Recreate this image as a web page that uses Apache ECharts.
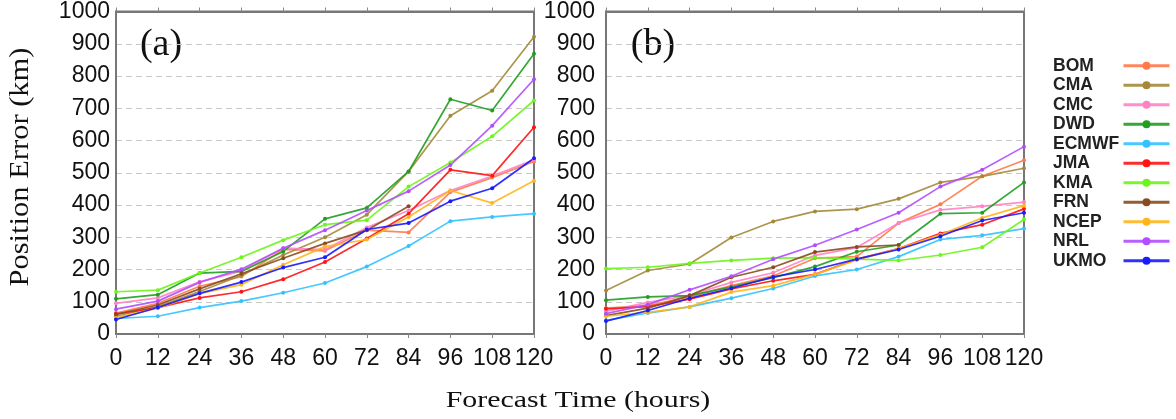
<!DOCTYPE html>
<html>
<head>
<meta charset="utf-8">
<script src="https://cdn.jsdelivr.net/npm/echarts@6/dist/echarts.min.js"></script>
<style>
html,body{margin:0;padding:0;background:#fff;}
#chart{width:1176px;height:419px;}
</style>
</head>
<body>
<div id="chart"></div>
<script>
// ---- data ----
var hours = [0, 12, 24, 36, 48, 60, 72, 84, 96, 108, 120];
var yTicks = [0, 100, 200, 300, 400, 500, 600, 700, 800, 900, 1000];
var models = ['BOM', 'CMA', 'CMC', 'DWD', 'ECMWF', 'JMA', 'KMA', 'FRN', 'NCEP', 'NRL', 'UKMO'];
var colors = ['#ff7a4a', '#a48a38', '#ff82c4', '#1f9e1f', '#33c2ff', '#ff1414', '#6cf51a', '#8b4a1e', '#ffb61c', '#b24cff', '#1a1aff'];

// panel (a)
var BOM_a   = [65, 95, 148, 178, 262, 258, 322, 315, 440, 485, 535];
var CMA_a   = [55, 85, 132, 182, 245, 300, 370, 504, 677, 754, 922];
var CMC_a   = [95, 112, 162, 195, 266, 262, 330, 383, 445, 490, 540];
var DWD_a   = [109, 122, 189, 194, 256, 357, 391, 504, 728, 693, 869];
var ECMWF_a = [48, 55, 82, 102, 128, 158, 209, 273, 350, 363, 373];
var JMA_a   = [62, 82, 112, 131, 170, 223, 296, 373, 509, 491, 641];
var KMA_a   = [131, 136, 189, 238, 291, 339, 353, 457, 532, 613, 724];
var FRN_a   = [61, 90, 140, 187, 235, 281, 322, 396];
var NCEP_a  = [50, 80, 125, 153, 215, 271, 293, 363, 445, 406, 475];
var NRL_a   = [77, 102, 160, 201, 266, 322, 383, 443, 524, 646, 790];
var UKMO_a  = [45, 82, 126, 161, 206, 238, 324, 344, 412, 452, 545];

// panel (b)
var BOM_b   = [80, 88, 115, 150, 180, 235, 240, 344, 402, 489, 539];
var CMA_b   = [135, 197, 217, 299, 349, 380, 387, 419, 470, 489, 514];
var CMC_b   = [70, 98, 120, 160, 190, 244, 268, 344, 385, 396, 409];
var DWD_b   = [105, 115, 119, 146, 175, 209, 255, 276, 373, 376, 470];
var ECMWF_b = [42, 65, 84, 111, 141, 180, 200, 240, 293, 306, 327];
var JMA_b   = [78, 85, 108, 140, 165, 185, 232, 265, 312, 339, 388];
var KMA_b   = [203, 207, 219, 228, 235, 237, 232, 228, 245, 269, 355];
var FRN_b   = [57, 80, 119, 176, 207, 254, 270, 276];
var NCEP_b  = [55, 67, 84, 130, 150, 185, 230, 265, 308, 360, 398];
var NRL_b   = [63, 91, 137, 179, 232, 275, 324, 376, 457, 509, 581];
var UKMO_b  = [40, 73, 111, 142, 177, 200, 232, 262, 303, 352, 376];

var panelA = [BOM_a, CMA_a, CMC_a, DWD_a, ECMWF_a, JMA_a, KMA_a, FRN_a, NCEP_a, NRL_a, UKMO_a];
var panelB = [BOM_b, CMA_b, CMC_b, DWD_b, ECMWF_b, JMA_b, KMA_b, FRN_b, NCEP_b, NRL_b, UKMO_b];

// ---- chart ----
var SANS = '"Liberation Sans", Arial, sans-serif';
var SERIF = '"Liberation Serif", "Times New Roman", serif';
var chart = echarts.init(document.getElementById('chart'), null, {renderer: 'canvas'});

function pairs(arr) { return arr.map(function (v, i) { return [hours[i], v]; }); }

var series = [];
[panelA, panelB].forEach(function (panel, p) {
  panel.forEach(function (arr, k) {
    series.push({
      name: models[k],
      type: 'line',
      xAxisIndex: p * 2,
      yAxisIndex: p,
      data: pairs(arr),
      symbol: 'circle',
      symbolSize: 4,
      showSymbol: true,
      color: colors[k],
      lineStyle: {width: 1.7, color: colors[k], opacity: 0.9},
      itemStyle: {color: colors[k]},
      emphasis: {disabled: true},
      animation: false,
      z: 3
    });
  });
});

function xAx(gi, pos) {
  var bottom = pos === 'bottom';
  return {
    type: 'value', gridIndex: gi, position: pos,
    min: 0, max: 120, interval: 12,
    axisLine: {show: true, onZero: false, lineStyle: {color: '#777', width: 2}},
    axisTick: {show: true, inside: false, length: 4, lineStyle: {color: '#888', width: 1}},
    axisLabel: {show: bottom, fontFamily: SANS, fontSize: 23, color: '#111', margin: 13,
      formatter: function (v) { return String(v); }},
    splitLine: {show: false}
  };
}
function yAx(gi, margin) {
  return {
    type: 'value', gridIndex: gi,
    min: yTicks[0], max: yTicks[yTicks.length - 1], interval: yTicks[1] - yTicks[0],
    axisLine: {show: true, lineStyle: {color: '#777', width: 2}},
    axisTick: {show: false},
    axisLabel: {fontFamily: SANS, fontSize: 23, color: '#111', margin: margin,
      formatter: function (v) { return String(v); }},
    splitLine: {show: true, lineStyle: {color: '#c8c8c8', type: [6, 4], width: 1}}
  };
}

var option = {
  backgroundColor: '#fff',
  animation: false,
  grid: [
    {left: 116, top: 10, width: 418, height: 324, show: true, borderColor: '#777', borderWidth: 2, backgroundColor: 'transparent'},
    {left: 606, top: 10, width: 418, height: 324, show: true, borderColor: '#777', borderWidth: 2, backgroundColor: 'transparent'}
  ],
  xAxis: [xAx(0, 'bottom'), xAx(0, 'top'), xAx(1, 'bottom'), xAx(1, 'top')],
  yAxis: [yAx(0, 6), yAx(1, 11)],
  legend: [
    {
      data: models, orient: 'vertical', left: 1048, top: 56, padding: 0,
      itemWidth: 0, itemHeight: 10, itemGap: 0, icon: 'rect',
      selectedMode: false,
      textStyle: {fontFamily: SANS, fontWeight: 'bold', fontSize: 17.5, color: '#222', lineHeight: 19.5, padding: 0}
    },
    {
      data: models, orient: 'vertical', left: 1122, top: 56, padding: 0,
      itemWidth: 46, itemHeight: 10, itemGap: 0,
      selectedMode: false,
      formatter: function () { return ' '; },
      lineStyle: {width: 3},
      textStyle: {fontFamily: SANS, fontSize: 17.5, lineHeight: 19.5, padding: 0}
    }
  ],
  graphic: [
    {type: 'text', x: 161, y: 45, style: {text: '(a)', font: '38px ' + SERIF, fill: '#111', textAlign: 'center', textVerticalAlign: 'middle'}},
    {type: 'text', x: 653, y: 45, style: {text: '(b)', font: '38px ' + SERIF, fill: '#111', textAlign: 'center', textVerticalAlign: 'middle'}},
    {type: 'text', x: 21, y: 167, rotation: Math.PI / 2, scaleX: 1.13, style: {text: 'Position Error (km)', font: '27px ' + SERIF, fill: '#111', textAlign: 'center', textVerticalAlign: 'middle'}},
    {type: 'text', x: 578, y: 401, scaleX: 1.3, style: {text: 'Forecast Time (hours)', font: '23px ' + SERIF, fill: '#111', textAlign: 'center', textVerticalAlign: 'middle'}}
  ],
  series: series
};
chart.setOption(option);
</script>
</body>
</html>
